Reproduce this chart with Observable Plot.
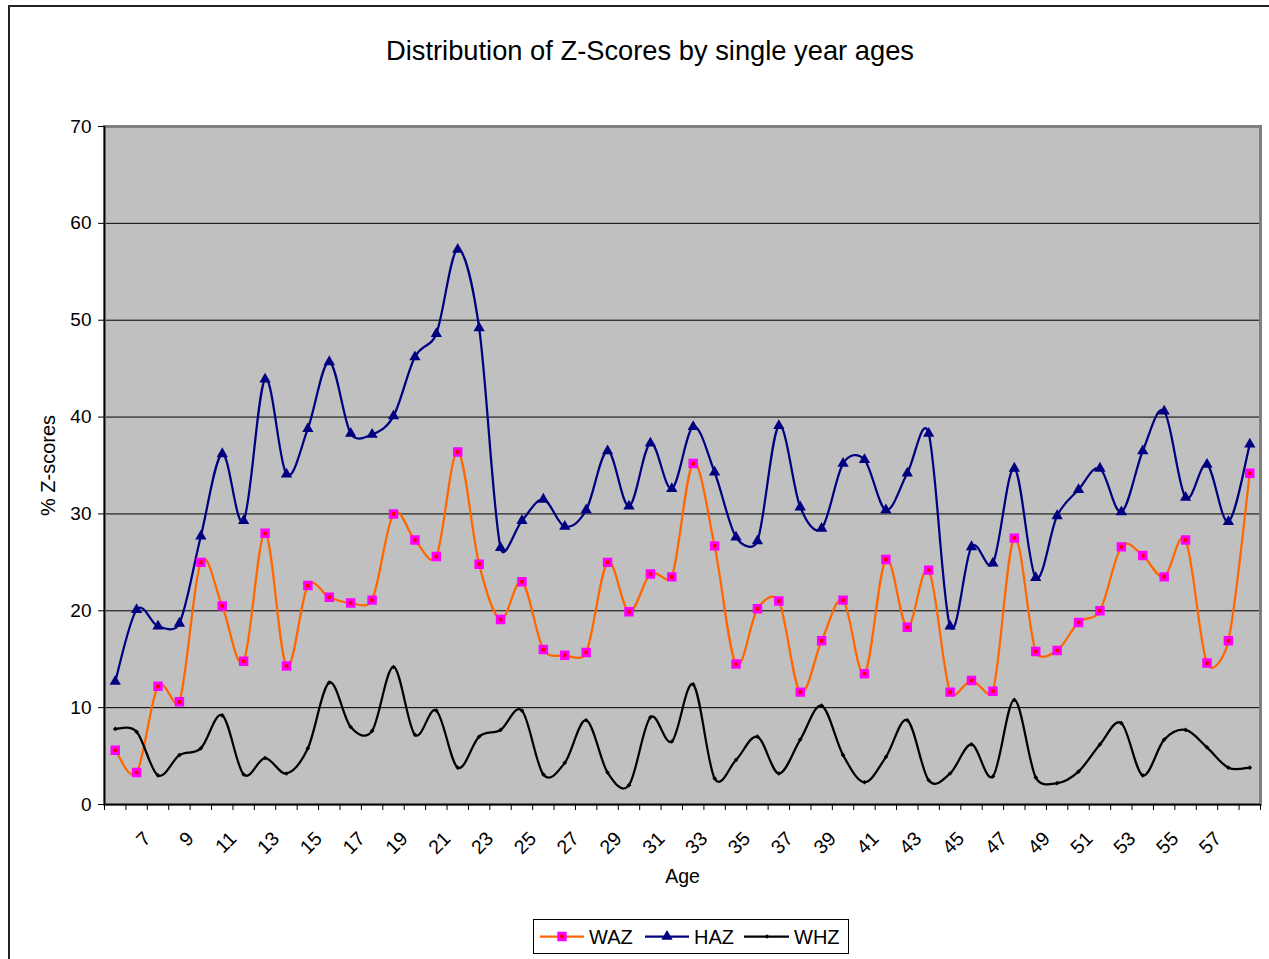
<!DOCTYPE html>
<html>
<head>
<meta charset="utf-8">
<script src="https://cdn.jsdelivr.net/npm/d3@7"></script>
<script src="https://cdn.jsdelivr.net/npm/@observablehq/plot@0.6"></script>
<style>
  html, body { margin: 0; padding: 0; background: #fff; }
  body { font-family: "Liberation Sans", Arial, sans-serif; color: #000; }
  #wrap { position: relative; width: 1269px; height: 959px; overflow: hidden; }
  #border { position: absolute; left: 8px; top: 5px; width: 1300px; height: 1000px;
            border-left: 2px solid #222; border-top: 2px solid #222; box-sizing: border-box; }
  #title { position: absolute; left: 0; top: 37px; width: 1300px; text-align: center;
           font-size: 27.3px; line-height: 27px; white-space: nowrap; }
  #chart { position: absolute; left: 0; top: 0; }
  #legend { position: absolute; left: 533px; top: 919px; width: 316px; height: 35px;
            border: 1px solid #000; box-sizing: border-box; background: #fff; }
  #legend svg { display: block; }
</style>
</head>
<body>
<div id="wrap">
  <div id="border"></div>
  <div id="title">Distribution of Z-Scores by single year ages</div>
  <div id="chart"></div>
  <div id="legend"></div>
</div>
<script>
// ---- data ----
const ages = [6,7,8,9,10,11,12,13,14,15,16,17,18,19,20,21,22,23,24,25,26,27,28,29,30,31,32,33,
              34,35,36,37,38,39,40,41,42,43,44,45,46,47,48,49,50,51,52,53,54,55,56,57,58,59];
const ageLabels = [7,9,11,13,15,17,19,21,23,25,27,29,31,33,35,37,39,41,43,45,47,49,51,53,55,57];
const yTicks = [0,10,20,30,40,50,60,70];

const waz = [5.6,3.3,12.2,10.6,25.0,20.5,14.8,28.0,14.3,22.6,21.4,20.8,21.1,30.0,
             27.3,25.6,36.4,24.8,19.1,23.0,16.0,15.4,15.7,25.0,19.9,23.8,23.5,
             35.2,26.7,14.5,20.2,21.0,11.6,16.9,21.1,13.5,25.3,18.3,24.2,11.6,12.8,
             11.7,27.5,15.8,15.9,18.8,20.0,26.6,25.7,23.5,27.3,14.6,16.9,34.2];
const haz = [12.7,20.1,18.4,18.7,27.7,36.2,29.3,43.9,34.1,38.8,45.7,38.3,38.2,40.1,
             46.2,48.6,57.3,49.2,26.5,29.3,31.5,28.7,30.4,36.5,30.8,37.3,32.6,
             39.0,34.3,27.6,27.2,39.1,30.7,28.5,35.2,35.6,30.4,34.2,38.3,18.4,26.6,
             24.9,34.7,23.4,29.8,32.5,34.7,30.2,36.5,40.6,31.7,35.1,29.2,37.2];
const whz = [7.8,7.5,3.0,5.1,5.8,9.2,3.1,4.8,3.2,5.8,12.6,8.0,7.6,14.2,
             7.2,9.7,3.8,7.0,7.7,9.7,3.1,4.3,8.7,3.3,2.0,9.0,6.5,
             12.4,2.7,4.6,7.0,3.2,6.7,10.2,5.1,2.3,4.9,8.7,2.5,3.2,6.2,
             2.9,10.8,2.8,2.2,3.4,6.2,8.4,3.0,6.7,7.7,5.9,3.8,3.8];

const seriesNames = ["WAZ", "HAZ", "WHZ"];

// ---- derived tables ----
const rows = (vals) => vals.map((v, i) => ({age: ages[i], value: v}));
const wazRows = rows(waz), hazRows = rows(haz), whzRows = rows(whz);
const xMin = ages[0] - 0.5, xMax = ages[ages.length - 1] + 0.5;
const bounds = ages.map(a => a - 0.5).concat([xMax]);

const FONT = "Liberation Sans, Arial, sans-serif";
const TRI_R = 4.2, SQ_R = 3.7, DIA_R = 2.1;

// Spreadsheet-style smoothed line: Bezier segments with 1/6 tangents, arms clamped to half a segment
function SmoothCurve(context) { this._context = context; }
SmoothCurve.prototype = {
  areaStart() { this._line = 0; },
  areaEnd() { this._line = NaN; },
  lineStart() { this._pts = []; },
  point(x, y) { this._pts.push([+x, +y]); },
  lineEnd() {
    const p = this._pts, c = this._context, n = p.length;
    if (n) {
      if (this._line) c.lineTo(p[0][0], p[0][1]); else c.moveTo(p[0][0], p[0][1]);
      for (let i = 0; i < n - 1; i++) {
        const p0 = p[Math.max(i - 1, 0)], p1 = p[i], p2 = p[i + 1], p3 = p[Math.min(i + 2, n - 1)];
        const d12 = Math.hypot(p2[0] - p1[0], p2[1] - p1[1]);
        const d02 = Math.hypot(p2[0] - p0[0], p2[1] - p0[1]);
        const d13 = Math.hypot(p3[0] - p1[0], p3[1] - p1[1]);
        let f1 = 1 / 6, f2 = 1 / 6;
        if (d02 * f1 > d12 / 2) f1 = d12 / (2 * d02);
        if (d13 * f2 > d12 / 2) f2 = d12 / (2 * d13);
        c.bezierCurveTo(
          p1[0] + (p2[0] - p0[0]) * f1, p1[1] + (p2[1] - p0[1]) * f1,
          p2[0] - (p3[0] - p1[0]) * f2, p2[1] - (p3[1] - p1[1]) * f2,
          p2[0], p2[1]);
      }
    }
    if (this._line || (this._line !== 0 && n === 1)) c.closePath();
    this._line = 1 - this._line;
  }
};
const smoothCurve = (context) => new SmoothCurve(context);

const chart = Plot.plot({
  width: 1269,
  height: 959,
  marginLeft: 104,
  marginRight: 9,
  marginTop: 126,
  marginBottom: 155,
  x: {domain: [xMin, xMax]},
  y: {domain: [0, 70]},
  style: {fontFamily: FONT, fontSize: "19px", background: "transparent", color: "#000", overflow: "visible"},
  marks: [
    Plot.frame({fill: "#c0c0c0"}),
    Plot.ruleY(yTicks.slice(1, -1), {stroke: "#000", strokeWidth: 1}),
    Plot.frame({stroke: "#808080", strokeWidth: 3}),
    Plot.ruleX([xMin], {stroke: "#000", strokeWidth: 1.5}),
    Plot.ruleY([0], {stroke: "#000", strokeWidth: 1.5}),
    Plot.axisY({ticks: yTicks, tickSize: 6, tickPadding: 7, label: null, fontSize: 19, tickFormat: d => String(d)}),
    Plot.axisX({ticks: bounds, tickSize: 6, tickFormat: () => "", label: null}),
    Plot.text(ageLabels, {x: d => d, frameAnchor: "bottom", rotate: -45, textAnchor: "end", lineAnchor: "middle",
                          dx: 11, dy: 31, fontSize: 19.5}),
    Plot.text(["Age"], {frameAnchor: "bottom", lineAnchor: "middle", textAnchor: "middle", dy: 72, fontSize: 19.5}),
    Plot.text(["% Z-scores"], {frameAnchor: "left", lineAnchor: "middle", textAnchor: "middle",
                               dx: -56, rotate: -90, fontSize: 20}),
    // lines
    Plot.line(hazRows, {x: "age", y: "value", stroke: "#000080", strokeWidth: 2.25, curve: smoothCurve}),
    Plot.line(wazRows, {x: "age", y: "value", stroke: "#ff6600", strokeWidth: 2.25, curve: smoothCurve}),
    Plot.line(whzRows, {x: "age", y: "value", stroke: "#000000", strokeWidth: 2.25, curve: smoothCurve}),
    // markers
    Plot.dot(hazRows, {x: "age", y: "value", symbol: "triangle", r: TRI_R, fill: "#000080", stroke: "none"}),
    Plot.dot(wazRows, {x: "age", y: "value", symbol: "square", r: SQ_R, fill: "#ff0000", stroke: "#ff00ff", strokeWidth: 2.9}),
    Plot.dot(whzRows, {x: "age", y: "value", symbol: "diamond2", r: DIA_R, fill: "#000", stroke: "none"})
  ]
});
document.getElementById("chart").appendChild(chart);

// ---- legend (swatches) ----
const legendItems = [
  {name: seriesNames[0], color: "#ff6600", x0: 6,   x1: 50,  mx: 28,  tx: 55,  type: "square"},
  {name: seriesNames[1], color: "#000080", x0: 111, x1: 155, mx: 133, tx: 160, type: "triangle"},
  {name: seriesNames[2], color: "#000000", x0: 210, x1: 255, mx: 233, tx: 260, type: "diamond"}
];
const ls = d3.select("#legend").append("svg").attr("width", 314).attr("height", 33);
const cy = 16.5;
for (const it of legendItems) {
  ls.append("line").attr("x1", it.x0).attr("x2", it.x1).attr("y1", cy).attr("y2", cy)
    .attr("stroke", it.color).attr("stroke-width", 2.25);
  if (it.type === "square") {
    ls.append("path").attr("d", d3.symbol(d3.symbolSquare, Math.PI * SQ_R * SQ_R)())
      .attr("transform", `translate(${it.mx},${cy})`)
      .attr("fill", "#ff0000").attr("stroke", "#ff00ff").attr("stroke-width", 2.9);
  } else if (it.type === "triangle") {
    ls.append("path").attr("d", d3.symbol(d3.symbolTriangle, Math.PI * TRI_R * TRI_R)())
      .attr("transform", `translate(${it.mx},${cy})`).attr("fill", it.color);
  } else {
    ls.append("path").attr("d", d3.symbol(d3.symbolDiamond2, Math.PI * DIA_R * DIA_R)())
      .attr("transform", `translate(${it.mx},${cy})`).attr("fill", it.color);
  }
  ls.append("text").attr("x", it.tx).attr("y", cy + 7.3).attr("font-size", 20)
    .attr("font-family", FONT).attr("fill", "#000").text(it.name);
}
</script>
</body>
</html>
